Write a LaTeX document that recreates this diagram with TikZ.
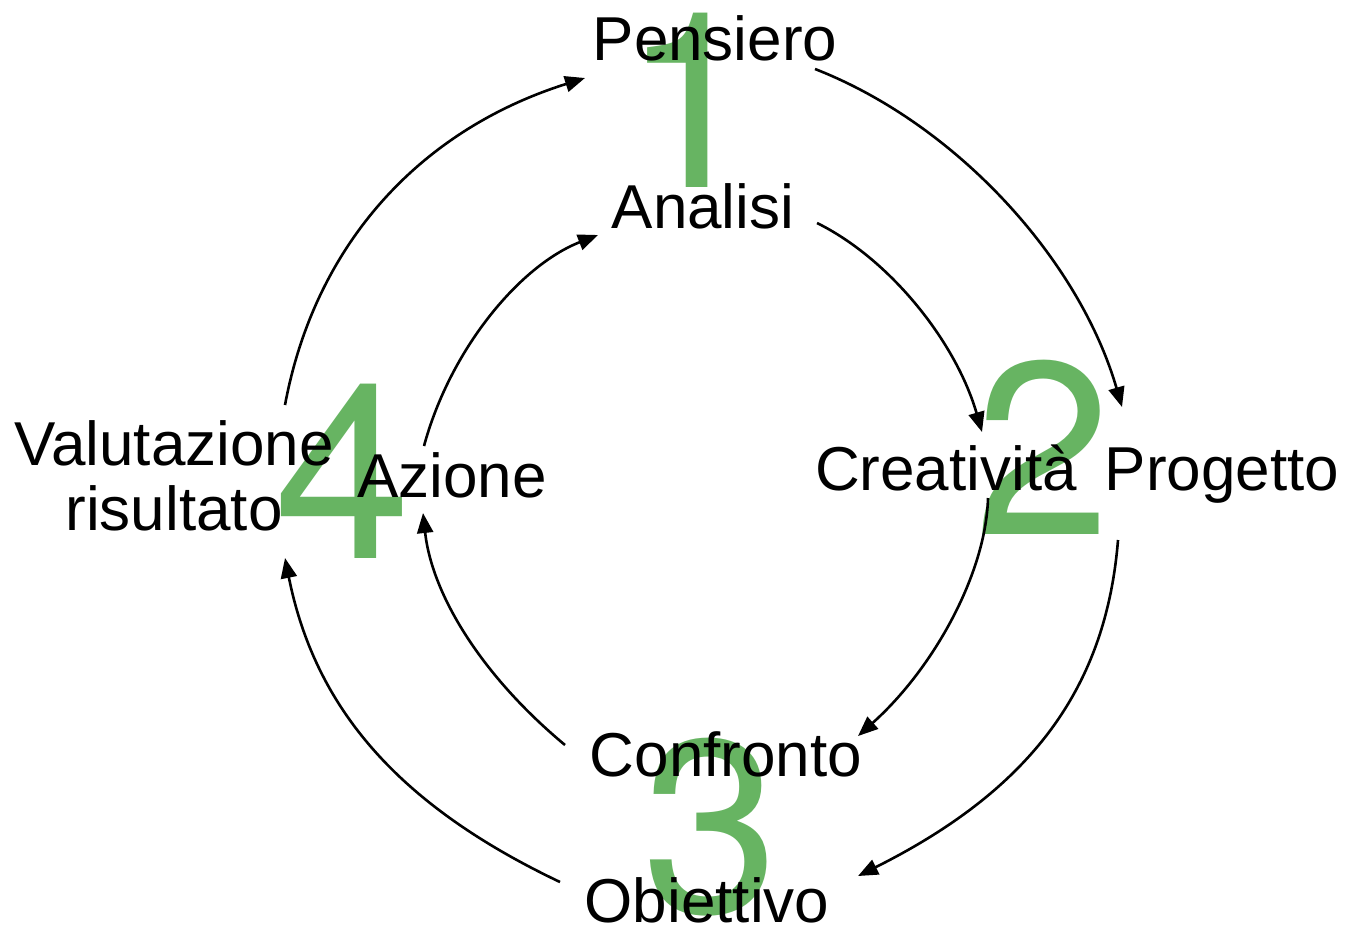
\documentclass[tikz,border=0pt]{standalone}
\usepackage{fontspec}
\setmainfont{Liberation Sans}
\newfontfamily\digitfont{TeX Gyre Heros}
\usetikzlibrary{arrows.meta}
\definecolor{numgreen}{RGB}{103,180,98}
\begin{document}
\begin{tikzpicture}[x=0.5pt,y=-0.5pt,
  lbl/.style={anchor=base,inner sep=0pt,font=\fontsize{31pt}{32.5pt}\selectfont,text=black},
  num/.style={anchor=base,inner sep=0pt,font=\digitfont\fontsize{123pt}{123pt}\selectfont,text=numgreen},
  conn/.style={line width=1.3pt,draw=black,-{Triangle[length=10pt,width=8pt]}}]
\useasboundingbox (0,0) rectangle (1358,928);
% green step numbers (behind)
\node[num] (n1) at (691,187) {1};
\node[num] (n2) at (1043,534) {2};
\node[num] (n3) at (711,912) {3};
\node[num] (n4) at (343,558) {4};
% labels
\node[lbl] (pens) at (715,60) {Pensiero};
\node[lbl] (anal) at (703,228) {Analisi};
\node[lbl] (crea) at (946,490) {Creatività};
\node[lbl] (prog) at (1222,490) {Progetto};
\node[lbl] (conf) at (726,776) {Confronto};
\node[lbl] (obie) at (707,922) {Obiettivo};
\node[lbl] (azio) at (452,497) {Azione};
\node[lbl,align=center] (valu) at (174,530) {Valutazione\\risultato};
% connector end points
\coordinate (pensOut) at (815,69);
\coordinate (progIn) at (1122,407);
\coordinate (progOut) at (1118,540);
\coordinate (obieIn) at (858,876);
\coordinate (obieOut) at (560,882);
\coordinate (valuIn) at (285,558);
\coordinate (valuOut) at (285,405);
\coordinate (pensIn) at (585,78);
\coordinate (analOut) at (817,223);
\coordinate (creaIn) at (982,432);
\coordinate (creaOut) at (988,498);
\coordinate (confIn) at (858,736);
\coordinate (confOut) at (565,745);
\coordinate (azioIn) at (423,513);
\coordinate (azioOut) at (424,446);
\coordinate (analIn) at (598,235);
% outer loop
\draw[conn] (pensOut) .. controls (956,124) and (1079,259) .. (progIn);
\draw[conn] (progOut) .. controls (1106,689) and (1030,790) .. (obieIn);
\draw[conn] (obieOut) .. controls (398,805) and (315,708) .. (valuIn);
\draw[conn] (valuOut) .. controls (315,244) and (420,130) .. (pensIn);
% inner loop
\draw[conn] (analOut) .. controls (890,259) and (956,342) .. (creaIn);
\draw[conn] (creaOut) .. controls (986,573) and (934,668) .. (confIn);
\draw[conn] (confOut) .. controls (482,676) and (432,595) .. (azioIn);
\draw[conn] (azioOut) .. controls (450,350) and (519,266) .. (analIn);
\end{tikzpicture}
\end{document}
